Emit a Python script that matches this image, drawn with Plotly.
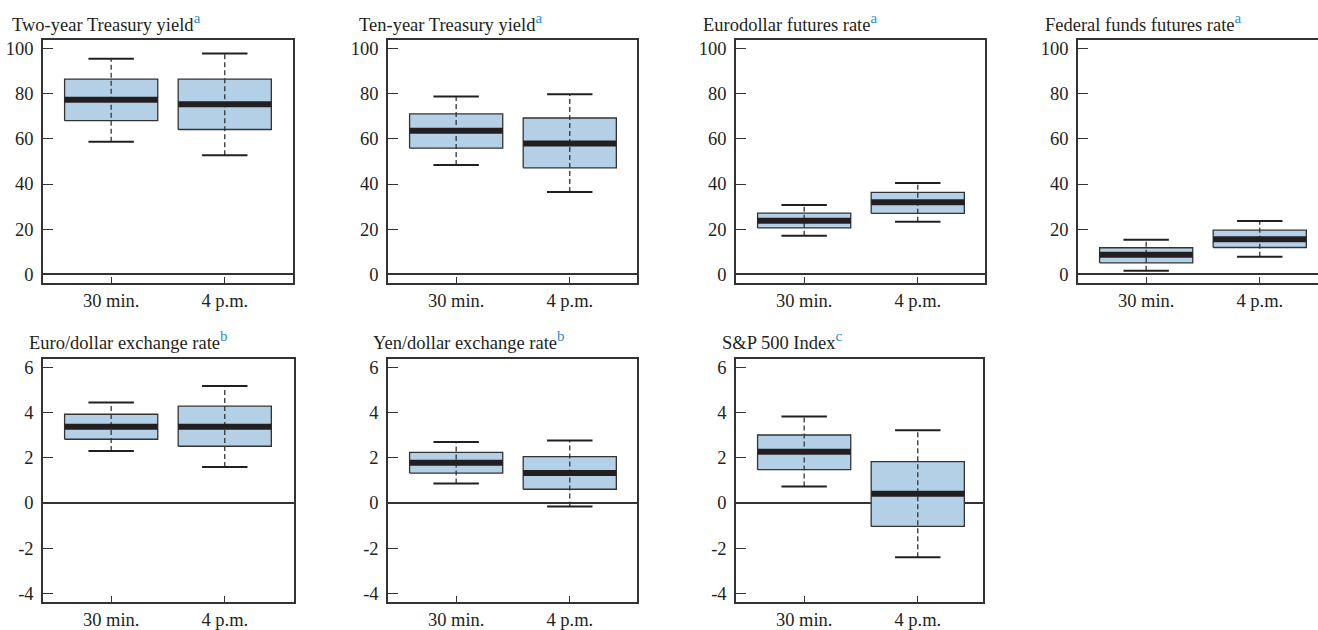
import plotly.graph_objects as go

# ---------------- data ----------------
categories = ["30 min.", "4 p.m."]
panel_titles = [
    "Two-year Treasury yield",
    "Ten-year Treasury yield",
    "Eurodollar futures rate",
    "Federal funds futures rate",
    "Euro/dollar exchange rate",
    "Yen/dollar exchange rate",
    "S&P 500 Index",
]
title_notes = ["a", "a", "a", "a", "b", "b", "c"]

lower_whisker = [[58.8, 52.8], [48.4, 36.4], [17.0, 23.2], [1.5, 7.7],
                 [2.31, 1.60], [0.87, -0.16], [0.73, -2.41]]
quartile_1 = [[68.1, 64.2], [55.9, 47.2], [20.5, 27.0], [5.0, 11.8],
              [2.83, 2.52], [1.33, 0.61], [1.48, -1.04]]
medians = [[77.4, 75.4], [63.6, 58.0], [23.7, 31.9], [8.6, 15.5],
           [3.39, 3.39], [1.79, 1.33], [2.27, 0.41]]
quartile_3 = [[86.6, 86.6], [71.1, 69.3], [27.1, 36.3], [11.7, 19.5],
              [3.94, 4.30], [2.25, 2.06], [3.02, 1.84]]
upper_whisker = [[95.6, 97.9], [78.8, 79.8], [30.7, 40.4], [15.3, 23.6],
                 [4.46, 5.19], [2.71, 2.77], [3.84, 3.23]]

row1_tickvals = [0, 20, 40, 60, 80, 100]
row1_ticktext = ["0", "20", "40", "60", "80", "100"]
row2_tickvals = [-4, -2, 0, 2, 4, 6]
row2_ticktext = ["-4", "-2", "0", "2", "4", "6"]

# ---------------- styling / layout ----------------
W, H = 1318, 630
FONT = "Liberation Serif"
TXT = "#231f20"
EDGE = "#333333"
BOX_FILL = "#b3d0e6"
NOTE_COLOR = "#2b8fd0"
BW = 0.41   # half box width (category units)
CW = 0.20   # half cap width
PX_PER_UNIT = 113.6
FS = 18.5

# pixel frames: left, right, top, bottom
frames = [(43, 293, 40, 284), (388, 637, 40, 284), (736, 985, 40, 284), (1078, 1318, 40, 284),
          (43, 294, 360, 604), (388, 637, 360, 604), (736, 983, 360, 604)]
title_pos = [(10, 31), (357, 31), (701, 31), (1043, 31), (27, 350), (371, 350), (720, 350)]

fig = go.Figure()
layout = dict(
    width=W, height=H, margin=dict(l=0, r=0, t=0, b=0),
    paper_bgcolor="white", plot_bgcolor="white",
    font=dict(family=FONT, size=FS, color=TXT),
    showlegend=False, annotations=[],
)

for i in range(7):
    ax = "" if i == 0 else str(i + 1)
    xr, yr = "x" + ax, "y" + ax
    for j in range(2):
        lo, q1, md, q3, up = (lower_whisker[i][j], quartile_1[i][j], medians[i][j],
                              quartile_3[i][j], upper_whisker[i][j])
        common = dict(xaxis=xr, yaxis=yr, mode="lines", hoverinfo="skip", showlegend=False)
        fig.add_trace(go.Scatter(x=[j - BW, j + BW, j + BW, j - BW, j - BW],
                                 y=[q1, q1, q3, q3, q1], fill="toself", fillcolor=BOX_FILL,
                                 line=dict(color=EDGE, width=1.3), **common))
        fig.add_trace(go.Scatter(x=[j, j], y=[lo, up],
                                 line=dict(color=EDGE, width=1.3, dash="5px,3px"), **common))
        fig.add_trace(go.Scatter(x=[j - BW, j + BW], y=[md, md],
                                 line=dict(color="#231f20", width=6), **common))
        fig.add_trace(go.Scatter(x=[j - CW, j + CW, None, j - CW, j + CW],
                                 y=[lo, lo, None, up, up],
                                 line=dict(color="#231f20", width=2), **common))

    l, r, t, b = frames[i]
    x_hi = -0.6 + (r - l) / PX_PER_UNIT
    row1 = i < 4
    layout["xaxis" + ax] = dict(
        domain=[l / W, r / W], range=[-0.6, x_hi], anchor=yr,
        tickvals=[0, 1], ticktext=categories, ticks="inside", ticklen=6,
        tickwidth=1.3, tickcolor=EDGE, showline=True, linecolor=EDGE, linewidth=1.5,
        mirror=True, showgrid=False, zeroline=False, fixedrange=True,
        tickfont=dict(family=FONT, size=FS, color=TXT),
    )
    layout["yaxis" + ax] = dict(
        domain=[1 - b / H, 1 - t / H],
        range=[-4, 104] if row1 else [-4.4, 6.4], anchor=xr,
        tickvals=row1_tickvals if row1 else row2_tickvals,
        ticktext=row1_ticktext if row1 else row2_ticktext,
        ticks="inside", ticklen=10, tickwidth=1.3, tickcolor=EDGE,
        showline=True, linecolor=EDGE, linewidth=1.5, mirror=(i != 3),
        showgrid=False, zeroline=True, zerolinecolor=EDGE, zerolinewidth=1.5,
        fixedrange=True, ticklabelstandoff=4,
        tickfont=dict(family=FONT, size=FS, color=TXT),
    )
    tx, ty = title_pos[i]
    layout["annotations"].append(dict(
        xref="paper", yref="paper", x=tx / W, y=1 - (ty + 6) / H,
        xanchor="left", yanchor="bottom", showarrow=False,
        text=(f"{panel_titles[i]}<sup><span style='color:{NOTE_COLOR};font-size:15px'>"
              f"{title_notes[i]}</span></sup>"),
        font=dict(family=FONT, size=FS, color=TXT),
    ))

fig.update_layout(**layout)
fig.write_html("out.html", config={"displayModeBar": False},
               post_script="document.body.style.margin='0px';")
